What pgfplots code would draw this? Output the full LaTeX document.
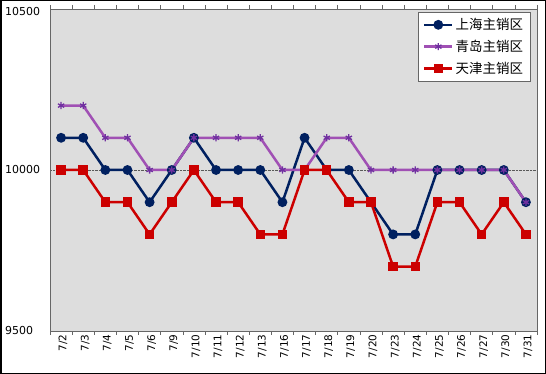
\documentclass[border=0pt]{standalone}
\usepackage{pgfplots}
\usepackage{pgfplotstable}
\pgfplotsset{compat=1.18}
\usepackage{fontspec}
\setmainfont{DejaVu Sans}
\newfontfamily\cjk{Noto Sans CJK SC}
\definecolor{navy}{RGB}{0,32,96}
\definecolor{purp}{RGB}{160,80,180}
\definecolor{purpm}{RGB}{112,48,160}
\definecolor{redc}{RGB}{204,0,0}
\definecolor{bg}{RGB}{221,221,221}
\pgfplotstableread{
x sh qd tj
0 10100 10200 10000
1 10100 10200 10000
2 10000 10100 9900
3 10000 10100 9900
4 9900 10000 9800
5 10000 10000 9900
6 10100 10100 10000
7 10000 10100 9900
8 10000 10100 9900
9 10000 10100 9800
10 9900 10000 9800
11 10100 10000 10000
12 10000 10100 10000
13 10000 10100 9900
14 9900 10000 9900
15 9800 10000 9700
16 9800 10000 9700
17 10000 10000 9900
18 10000 10000 9900
19 10000 10000 9800
20 10000 10000 9900
21 9900 9900 9800
}\data
\begin{document}
\begin{tikzpicture}
\path[use as bounding box] (0,0) rectangle (546bp,374bp);
\draw[black, line width=1.5bp] (0.75bp,0.75bp) rectangle (545.25bp,373.25bp);
\begin{axis}[
  at={(50bp,43bp)}, anchor=south west,
  scale only axis, width=487bp, height=322bp,
  xmin=-0.5, xmax=21.5, ymin=9500, ymax=10500,
  axis background/.style={fill=bg},
  axis line style={draw=gray!80!black, line width=0.8bp},
  xtick={0,...,21},
  xticklabels={7/2,7/3,7/4,7/5,7/6,7/9,7/10,7/11,7/12,7/13,7/16,7/17,7/18,7/19,7/20,7/23,7/24,7/25,7/26,7/27,7/30,7/31},
  minor xtick={-0.5,0.5,...,21.5},
  ytick={9500,10000,10500},
  yticklabels={9500,10000,\raisebox{-6.5bp}[0pt][0pt]{10500}},
  major tick length=0pt, minor tick length=4bp, tick align=outside,
  minor tick style={draw=gray!80!black, line width=0.6bp},
  ymajorgrids, major grid style={densely dotted, gray!70!black, line width=0.7bp},
  xticklabel style={rotate=90, anchor=east, font=\fontsize{10.5}{12}\selectfont, yshift=-2bp},
  yticklabel style={anchor=west, inner sep=0pt, xshift=-45bp, font=\fontsize{11}{13}\selectfont},
  legend style={at={(0.986,0.99)}, anchor=north east, draw=gray!80!black, fill=white,
    font=\cjk\fontsize{13.5}{15}\selectfont, row sep=5bp, inner xsep=5bp, inner ysep=4bp},
  legend cell align=left,
  legend image code/.code={\draw[mark repeat=2,mark phase=2,#1] plot coordinates {(0cm,0cm) (0.5cm,0cm) (1cm,0cm)};},
]
\addplot[navy, line width=2.5bp, mark=*, mark size=3.6bp, mark options={fill=navy}] table[x=x,y=sh] {\data};
\addlegendentry{上海主销区}
\addplot[purp, line width=2.5bp, mark=asterisk, mark size=3.6bp, mark options={draw=purpm, line width=1.3bp}] table[x=x,y=qd] {\data};
\addlegendentry{青岛主销区}
\addplot[redc, line width=2.5bp, mark=square*, mark size=3.5bp, mark options={fill=redc}] table[x=x,y=tj] {\data};
\addlegendentry{天津主销区}
\end{axis}
\end{tikzpicture}
\end{document}
